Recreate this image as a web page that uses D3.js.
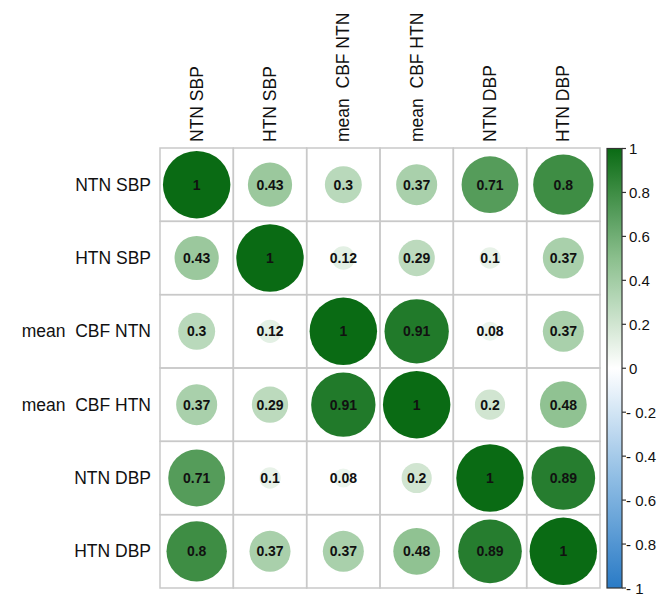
<!DOCTYPE html>
<html>
<head>
<meta charset="utf-8">
<script src="https://cdn.jsdelivr.net/npm/d3@7/dist/d3.min.js"></script>
<style>
  html, body { margin: 0; padding: 0; background: #fff; }
  svg text { font-family: "Liberation Sans", Arial, Helvetica, sans-serif; white-space: pre; }
</style>
</head>
<body>
<svg id="chart" width="662" height="595"></svg>
<script>
// Variables (rows and columns share the same order)
const variables = ["NTN SBP", "HTN SBP", "mean  CBF NTN", "mean  CBF HTN", "NTN DBP", "HTN DBP"];

// Correlation coefficients, one array per row
const rowNtnSbp  = [1, 0.43, 0.3, 0.37, 0.71, 0.8];
const rowHtnSbp  = [0.43, 1, 0.12, 0.29, 0.1, 0.37];
const rowCbfNtn  = [0.3, 0.12, 1, 0.91, 0.08, 0.37];
const rowCbfHtn  = [0.37, 0.29, 0.91, 1, 0.2, 0.48];
const rowNtnDbp  = [0.71, 0.1, 0.08, 0.2, 1, 0.89];
const rowHtnDbp  = [0.8, 0.37, 0.37, 0.48, 0.89, 1];
const matrix = [rowNtnSbp, rowHtnSbp, rowCbfNtn, rowCbfHtn, rowNtnDbp, rowHtnDbp];

// Colour legend ticks
const legendTicks = [1, 0.8, 0.6, 0.4, 0.2, 0, -0.2, -0.4, -0.6, -0.8, -1];
const legendTickLabels = ["1", "0.8", "0.6", "0.4", "0.2", "0", "- 0.2", "- 0.4", "- 0.6", "- 0.8", "- 1"];

const svg = d3.select("#chart");

const gridLeft = 160, gridTop = 148, gridSize = 440;
const x = d3.scaleBand().domain(d3.range(variables.length)).range([gridLeft, gridLeft + gridSize]);
const y = d3.scaleBand().domain(d3.range(variables.length)).range([gridTop, gridTop + gridSize]);
const cell = x.bandwidth();

// Diverging palette: blue (-1) -> white (0) -> dark green (1)
const color = d3.scaleLinear()
  .domain([-1, -0.5, 0, 0.5, 1])
  .range(["#2a7bc6", "#8fbde4", "#ffffff", "#8bbf8d", "#0a6b14"])
  .interpolate(d3.interpolateRgb);

// Circle area proportional to |r|
const radius = d3.scaleSqrt().domain([0, 1]).range([0, cell * 0.46]);

const cells = [];
matrix.forEach((row, i) => row.forEach((v, j) => cells.push({ i, j, v })));

// Grid cells
svg.append("g").selectAll("rect")
  .data(cells).join("rect")
  .attr("x", d => x(d.j)).attr("y", d => y(d.i))
  .attr("width", cell).attr("height", cell)
  .attr("fill", "none").attr("stroke", "#c9c9c9").attr("stroke-width", 1.5);

// Circles
svg.append("g").selectAll("circle")
  .data(cells).join("circle")
  .attr("cx", d => x(d.j) + cell / 2)
  .attr("cy", d => y(d.i) + cell / 2)
  .attr("r", d => radius(Math.abs(d.v)))
  .attr("fill", d => color(d.v));

// Coefficient labels
svg.append("g").selectAll("text")
  .data(cells).join("text")
  .attr("x", d => x(d.j) + cell / 2)
  .attr("y", d => y(d.i) + cell / 2)
  .attr("text-anchor", "middle")
  .attr("dominant-baseline", "central")
  .attr("font-size", 14).attr("font-weight", "bold").attr("fill", "#111")
  .text(d => String(d.v));

// Row labels
svg.append("g").selectAll("text")
  .data(variables).join("text")
  .attr("x", gridLeft - 9)
  .attr("y", (d, i) => y(i) + cell / 2)
  .attr("text-anchor", "end")
  .attr("dominant-baseline", "central")
  .attr("font-size", 17.5).attr("fill", "#111")
  .text(d => d);

// Column labels (vertical)
svg.append("g").selectAll("text")
  .data(variables).join("text")
  .attr("transform", (d, i) => `translate(${x(i) + cell / 2 + 6},${gridTop - 6}) rotate(-90)`)
  .attr("text-anchor", "start")
  .attr("font-size", 17.5).attr("fill", "#111")
  .text(d => d);

// Colour bar
const barX = 607, barW = 15;
const ly = d3.scaleLinear().domain([1, -1]).range([gridTop + 0.5, gridTop + gridSize]);
const defs = svg.append("defs");
const grad = defs.append("linearGradient").attr("id", "cbar")
  .attr("x1", 0).attr("y1", 0).attr("x2", 0).attr("y2", 1);
d3.range(0, 1.0001, 0.05).forEach(t => {
  grad.append("stop").attr("offset", t).attr("stop-color", color(1 - 2 * t));
});
svg.append("rect")
  .attr("x", barX).attr("y", ly(1))
  .attr("width", barW).attr("height", ly(-1) - ly(1))
  .attr("fill", "url(#cbar)")
  .attr("stroke", "#333").attr("stroke-width", 1.2);

const legend = svg.append("g");
legend.selectAll("line")
  .data(legendTicks).join("line")
  .attr("x1", barX + barW).attr("x2", barX + barW + 4)
  .attr("y1", d => ly(d)).attr("y2", d => ly(d))
  .attr("stroke", "#333").attr("stroke-width", 1.2);
legend.selectAll("text")
  .data(legendTicks).join("text")
  .attr("x", d => d < 0 ? barX + barW + 4 : barX + barW + 7)
  .attr("y", d => ly(d))
  .attr("dominant-baseline", "central")
  .attr("font-size", 15).attr("fill", "#111")
  .text((d, i) => legendTickLabels[i]);
</script>
</body>
</html>
